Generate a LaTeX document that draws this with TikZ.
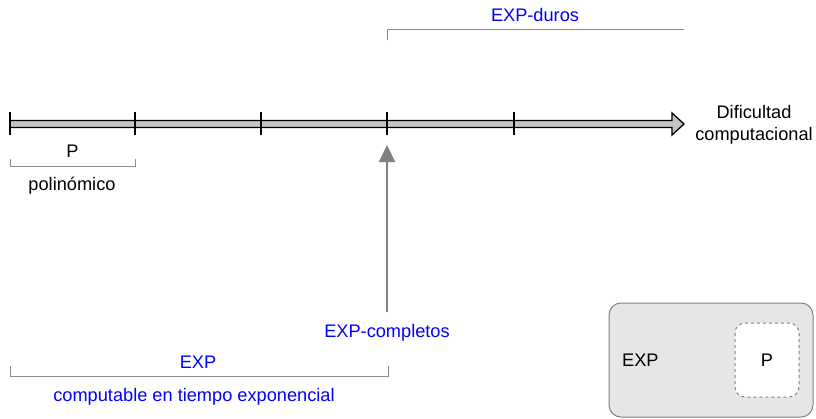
\documentclass[tikz,border=0pt]{standalone}
\usepackage{fontspec}
\setmainfont{Liberation Sans}
\usetikzlibrary{arrows.meta}
\definecolor{axisfill}{HTML}{C4C4C4}
\definecolor{brk}{HTML}{8C8C8C}
\definecolor{legfill}{HTML}{E6E6E6}
\begin{document}
\begin{tikzpicture}[x=1pt,y=-1pt,
  lbl/.style={font=\fontsize{18.2}{21}\selectfont, inner sep=0pt},
  bl/.style={lbl, text=blue},
  tick/.style={draw=black, line width=2pt},
  brack/.style={draw=brk, line width=1pt},
  upar/.style={draw=gray, line width=2pt, -{Triangle[length=17pt,width=16pt]}}
]
\useasboundingbox (0,0) rectangle (816,418);
% axis arrow
\draw[fill=axisfill, line width=1.3pt, line join=miter]
  (10,120.5) -- (672,120.5) -- (672,113) -- (684,124) -- (672,135) -- (672,127.5) -- (10,127.5) -- cycle;
% ticks
\foreach \x/\n in {10/t0,135/t1,261/t2,387/t3,514/t4}{
  \coordinate (\n a) at (\x,112);
  \coordinate (\n b) at (\x,135);
  \draw[tick] (\n a) -- (\n b);
}
\node[lbl, align=center] (dif) at (754,125) {Dificultad\\[1pt]computacional};
% P bracket
\coordinate (pl) at (10,159); \coordinate (pr) at (135,159);
\draw[brack] (pl) -- ++(0,7) -| (pr);
\node[lbl] (P) at (72.5,151) {P};
\node[lbl] (poli) at (72,186) {polinómico};
% EXP-duros bracket
\coordinate (dl) at (387,40); \coordinate (dr) at (684,29);
\draw[brack] (dl) |- (dr);
\node[bl] (duros) at (535,15) {EXP-duros};
% EXP-completos arrow
\node[bl] (comp) at (387,333) {EXP-completos};
\coordinate (tip) at (387,145);
\draw[upar] (387,312) -- (tip);
% EXP bracket
\coordinate (el) at (10,366); \coordinate (er) at (388,366);
\draw[brack] (el) -- ++(0,10) -| (er);
\node[bl] (exp) at (198,362) {EXP};
\node[bl] (cte) at (194,397) {computable en tiempo exponencial};
% legend
\draw[draw=gray, fill=legfill, rounded corners=12pt, line width=1pt] (609,303) rectangle (813,417);
\node[lbl, anchor=west] (lexp) at (622,360) {EXP};
\draw[draw=gray, fill=white, dashed, rounded corners=10pt, line width=1pt] (735,323) rectangle (799,397);
\node[lbl] (lp) at (767,360) {P};
\end{tikzpicture}
\end{document}
